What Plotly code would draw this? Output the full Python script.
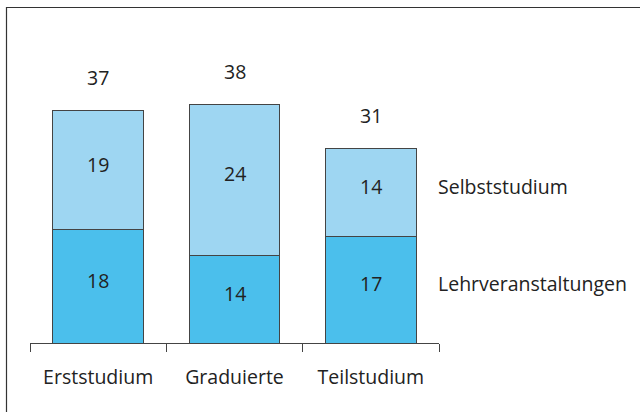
import plotly.graph_objects as go

categories = ["Erststudium", "Graduierte", "Teilstudium"]
lehr = [18, 14, 17]
selbst = [19, 24, 14]
totals = [37, 38, 31]
series_names = ["Lehrveranstaltungen", "Selbststudium"]

FONT = "Open Sans"
FS = 19.5
TXT = "#222222"
C_DARK = "#4bbfec"
C_LIGHT = "#9ed6f2"
EDGE = "#444444"

fig = go.Figure()
fig.add_trace(go.Bar(x=categories, y=lehr, name=series_names[0], width=0.667,
                     marker=dict(color=C_DARK, line=dict(color=EDGE, width=1))))
fig.add_trace(go.Bar(x=categories, y=selbst, name=series_names[1], width=0.667,
                     marker=dict(color=C_LIGHT, line=dict(color=EDGE, width=1))))

ann = []
for c, a, b, t in zip(categories, lehr, selbst, totals):
    ann.append(dict(x=c, y=a / 2, text=str(a), showarrow=False, yshift=6,
                    font=dict(family=FONT, size=FS, color=TXT)))
    ann.append(dict(x=c, y=a + b / 2, text=str(b), showarrow=False, yshift=6,
                    font=dict(family=FONT, size=FS, color=TXT)))
    ann.append(dict(x=c, y=t, text=str(t), showarrow=False, yshift=33,
                    font=dict(family=FONT, size=FS, color=TXT)))

ann.append(dict(xref="paper", x=1.0, xanchor="left", xshift=-3, y=lehr[-1] / 2, yshift=6,
                text=series_names[0], showarrow=False,
                font=dict(family=FONT, size=FS, color=TXT)))
ann.append(dict(xref="paper", x=1.0, xanchor="left", xshift=-3, y=lehr[-1] + selbst[-1] / 2, yshift=6,
                text=series_names[1], showarrow=False,
                font=dict(family=FONT, size=FS, color=TXT)))

fig.update_layout(
    width=640, height=412,
    margin=dict(l=30, r=201, t=20, b=69),
    barmode="stack",
    showlegend=False,
    plot_bgcolor="white", paper_bgcolor="white",
    annotations=ann,
    xaxis=dict(type="category", tickson="boundaries", ticks="outside", ticklen=8,
               tickcolor=EDGE, tickwidth=1, showline=True, linecolor=EDGE, linewidth=1,
               showgrid=False, tickfont=dict(family=FONT, size=FS, color=TXT),
               ticklabelstandoff=17, range=[-0.5, 2.5]),
    yaxis=dict(range=[0, 51.4], visible=False, showgrid=False),
    shapes=[dict(type="rect", xref="paper", yref="paper",
                 x0=(6.5 - 30) / 409, x1=(660 - 30) / 409,
                 y0=(343 - 430) / 323, y1=(343 - 7.5) / 323,
                 line=dict(color="#333333", width=1.2), layer="above")],
)

fig.write_html("out.html", config={"displayModeBar": False},
               post_script="document.body.style.margin='0';")
